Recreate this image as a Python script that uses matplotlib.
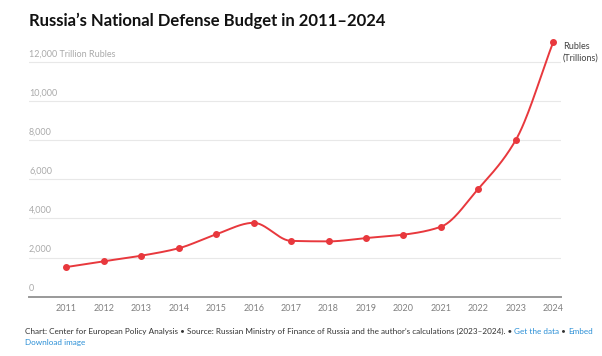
import numpy as np
import matplotlib
matplotlib.use("Agg")
import matplotlib.pyplot as plt

years = [2011, 2012, 2013, 2014, 2015, 2016, 2017, 2018, 2019, 2020, 2021, 2022, 2023, 2024]
values = [1516, 1812, 2097, 2476, 3191, 3775, 2852, 2827, 2997, 3169, 3573, 5510, 8000, 13000]
yticks = [0, 2000, 4000, 6000, 8000, 10000, 12000]
ytick_labels = ["0", "2,000", "4,000", "6,000", "8,000", "10,000", "12,000 Trillion Rubles"]

RED = "#e8383d"
W, H = 602, 356

def monotone(x, y, n=30):
    x = np.asarray(x, float); y = np.asarray(y, float)
    h = np.diff(x); d = np.diff(y) / h
    m = np.zeros_like(y)
    m[0] = d[0]; m[-1] = d[-1]
    for i in range(1, len(y) - 1):
        if d[i - 1] * d[i] <= 0:
            m[i] = 0
        else:
            w1 = 2 * h[i] + h[i - 1]; w2 = h[i] + 2 * h[i - 1]
            m[i] = (w1 + w2) / (w1 / d[i - 1] + w2 / d[i])
    xs, ys = [], []
    for i in range(len(x) - 1):
        t = np.linspace(0, 1, n, endpoint=False)
        h00 = 2*t**3 - 3*t**2 + 1; h10 = t**3 - 2*t**2 + t
        h01 = -2*t**3 + 3*t**2; h11 = t**3 - t**2
        xs.append(x[i] + t * h[i])
        ys.append(h00*y[i] + h10*h[i]*m[i] + h01*y[i+1] + h11*h[i]*m[i+1])
    xs.append([x[-1]]); ys.append([y[-1]])
    return np.concatenate(xs), np.concatenate(ys)

plt.rcParams['font.family'] = ['Lato', 'DejaVu Sans']
fig = plt.figure(figsize=(W/100, H/100), dpi=100)
left, right = 29, 561
y0px, ytop = 296.7, 42.3
ax = fig.add_axes([left/W, 1 - y0px/H, (right-left)/W, (y0px-ytop)/H])
ax.set_xlim(2010, 2024.21)
ax.set_ylim(0, 13000)
for s in ax.spines.values():
    s.set_visible(False)
ax.set_xticks([]); ax.set_yticks([])

for t, lab in zip(yticks, ytick_labels):
    if t == 0:
        ax.axhline(0, color="#999999", lw=1.4, zorder=1, clip_on=False)
    else:
        ax.axhline(t, color="#e8e8e8", lw=0.8, zorder=1)
    ax.annotate(lab, (0, t), xycoords=("axes fraction", "data"), xytext=(0, 2.5),
                textcoords="offset points", ha="left", va="bottom",
                fontsize=6.5, color="#aaaaaa")

for yr in years:
    ax.annotate(str(yr), (yr, 0), xycoords="data", xytext=(0, -8.5),
                textcoords="offset points", ha="center", va="center",
                fontsize=6.5, color="#808080", annotation_clip=False)

xs, ys = monotone(years, values)
ax.plot(xs, ys, color=RED, lw=1.4, clip_on=False, zorder=3)
ax.plot(years, values, 'o', color=RED, ms=4, clip_on=False, zorder=4)

ax.annotate("Rubles\n(Trillions)", (years[-1], values[-1]), xytext=(7, 0),
            textcoords="offset points", ha="left", va="top", fontsize=6.5,
            color="#444444", linespacing=1.3, annotation_clip=False)

fig.text(29/W, 1 - 26/H, "Russia\u2019s National Defense Budget in 2011\u20132024",
         fontsize=12, fontweight="bold", color="#111111", ha="left", va="baseline")

fs = 5.85
base = 1 - 333.5/H
foot1 = "Chart: Center for European Policy Analysis \u2022 Source: Russian Ministry of Finance of Russia and the author\u2019s calculations (2023\u20132024). \u2022 "
t1 = fig.text(25/W, base, foot1, fontsize=fs, color="#333333", ha="left", va="baseline")
fig.canvas.draw()
bb = t1.get_window_extent()
t2 = fig.text(bb.x1/W, base, "Get the data", fontsize=fs, color="#2a8fd6", ha="left", va="baseline")
fig.canvas.draw()
bb2 = t2.get_window_extent()
t3 = fig.text(bb2.x1/W, base, " \u2022 ", fontsize=fs, color="#333333", ha="left", va="baseline")
fig.canvas.draw()
bb3 = t3.get_window_extent()
fig.text(bb3.x1/W, base, "Embed", fontsize=fs, color="#2a8fd6", ha="left", va="baseline")
fig.text(25/W, 1 - 344.5/H, "Download image", fontsize=fs, color="#2a8fd6", ha="left", va="baseline")

fig.savefig("out.png", dpi=100)
